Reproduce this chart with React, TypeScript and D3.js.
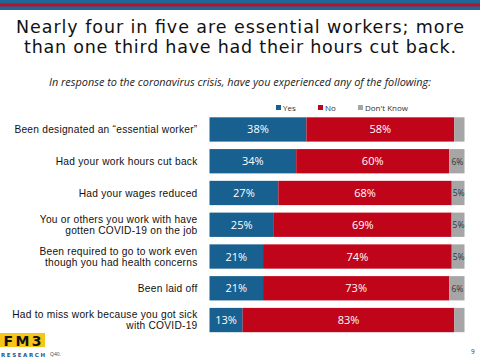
import React from "react";
import * as d3 from "d3";

const categories = [
  ["Been designated an \u201Cessential worker\u201D"],
  ["Had your work hours cut back"],
  ["Had your wages reduced"],
  ["You or others you work with have", "gotten COVID-19 on the job"],
  ["Been required to go to work even", "though you had health concerns"],
  ["Been laid off"],
  ["Had to miss work because you got sick", "with COVID-19"],
];
const yesValues = [38, 34, 27, 25, 21, 21, 13];
const noValues = [58, 60, 68, 69, 74, 73, 83];
const dkValues = [4, 6, 5, 5, 5, 6, 4];
const dkShown = [false, true, true, true, true, true, false];
const seriesKeys = ["Yes", "No", "Don't Know"];
const seriesColors = ["#17608f", "#c0051a", "#a6a6a6"];

const W = 480;
const H = 360;

export default function App() {
  const rows = categories.map((c, i) => ({
    idx: i,
    Yes: yesValues[i],
    No: noValues[i],
    "Don't Know": dkValues[i],
  }));
  const stack = d3
    .stack<any>()
    .keys(seriesKeys)
    .offset(d3.stackOffsetExpand);
  const series = stack(rows);

  const x = d3.scaleLinear().domain([0, 1]).range([209.5, 464.5]);
  const y = d3
    .scaleBand<number>()
    .domain(d3.range(categories.length))
    .range([113.5, 336])
    .paddingInner(0.235)
    .paddingOuter(0.12);

  const labelFont = "'Open Sans', sans-serif";
  const catFont = "'Liberation Sans', Arial, sans-serif";

  return (
    <svg
      width={W}
      height={H}
      viewBox={`0 0 ${W} ${H}`}
      style={{ position: "absolute", left: 0, top: 0, background: "#fff" }}
    >
      {/* top stripe */}
      <rect x={0} y={0} width={W} height={10} fill="#1d6896" />
      <rect x={0} y={3.5} width={W} height={3} fill="#b0152e" />

      {/* title */}
      <text
        x={240}
        y={33}
        textAnchor="middle"
        fontFamily="'DejaVu Sans', sans-serif"
        fontSize={17.5}
        fill="#111"
        textLength={448}
        lengthAdjust="spacing"
      >
        Nearly four in five are essential workers; more
      </text>
      <text
        x={240}
        y={53}
        textAnchor="middle"
        fontFamily="'DejaVu Sans', sans-serif"
        fontSize={17.5}
        fill="#111"
        textLength={432}
        lengthAdjust="spacing"
      >
        than one third have had their hours cut back.
      </text>

      {/* subtitle */}
      <text
        x={240}
        y={85.5}
        textAnchor="middle"
        fontFamily={labelFont}
        fontStyle="italic"
        fontSize={10}
        fill="#222"
        textLength={382}
        lengthAdjust="spacingAndGlyphs"
      >
        In response to the coronavirus crisis, have you experienced any of the following:
      </text>

      {/* legend */}
      {[
        { x: 276, label: "Yes" },
        { x: 318, label: "No" },
        { x: 358, label: "Don't Know" },
      ].map((l, i) => (
        <g key={l.label}>
          <rect x={l.x} y={105} width={5} height={5} fill={seriesColors[i]} />
          <text
            x={l.x + 7}
            y={110.5}
            fontFamily={labelFont}
            fontSize={8}
            fill="#333"
          >
            {l.label}
          </text>
        </g>
      ))}

      {/* bars */}
      {series.map((s, si) => (
        <g key={s.key}>
          {s.map((d, i) => (
            <rect
              key={i}
              x={x(d[0])}
              y={y(i)!}
              width={x(d[1]) - x(d[0])}
              height={y.bandwidth()}
              fill={seriesColors[si]}
            />
          ))}
        </g>
      ))}

      {/* value labels */}
      {series.map((s, si) =>
        s.map((d, i) => {
          const cx = (x(d[0]) + x(d[1])) / 2;
          const cy = y(i)! + y.bandwidth() / 2;
          if (si === 2) {
            if (!dkShown[i]) return null;
            return (
              <text
                key={`${si}-${i}`}
                x={cx + 0.5}
                y={cy + 3.3}
                textAnchor="middle"
                fontFamily={labelFont}
                fontSize={8.5}
                fill="#333"
              >
                {dkValues[i]}%
              </text>
            );
          }
          const v = si === 0 ? yesValues[i] : noValues[i];
          return (
            <text
              key={`${si}-${i}`}
              x={cx}
              y={cy + 4}
              textAnchor="middle"
              fontFamily={labelFont}
              fontSize={11}
              fill="#fff"
            >
              {v}%
            </text>
          );
        })
      )}

      {/* category labels */}
      {categories.map((lines, i) => {
        const cy = y(i)! + y.bandwidth() / 2;
        const lh = 11.3;
        const top = cy - ((lines.length - 1) * lh) / 2 + 3.7;
        return (
          <text
            key={i}
            x={197.5}
            textAnchor="end"
            fontFamily={catFont}
            fontSize={10.2}
            letterSpacing={0.25}
            fill="#111"
          >
            {lines.map((ln, j) => (
              <tspan key={j} x={197.5} y={top + j * lh}>
                {ln}
              </tspan>
            ))}
          </text>
        );
      })}

      {/* logo */}
      <rect x={0} y={333} width={45} height={14} fill="#f5c518" />
      <text
        x={22.5}
        y={345.5}
        textAnchor="middle"
        fontFamily="'DejaVu Sans', sans-serif"
        fontWeight="bold"
        fontSize={14}
        fill="#111"
        textLength={38}
        lengthAdjust="spacing"
      >
        FM3
      </text>
      <text
        x={1}
        y={357}
        fontFamily="'DejaVu Sans', sans-serif"
        fontWeight="bold"
        fontSize={5.5}
        fill="#1d5a8c"
        textLength={44}
        lengthAdjust="spacing"
      >
        RESEARCH
      </text>
      <text
        x={50}
        y={356}
        fontFamily={labelFont}
        fontSize={5}
        fill="#444"
      >
        Q40.
      </text>
      <text
        x={471}
        y={354}
        fontFamily={labelFont}
        fontSize={6.5}
        fill="#333"
      >
        9
      </text>
    </svg>
  );
}
